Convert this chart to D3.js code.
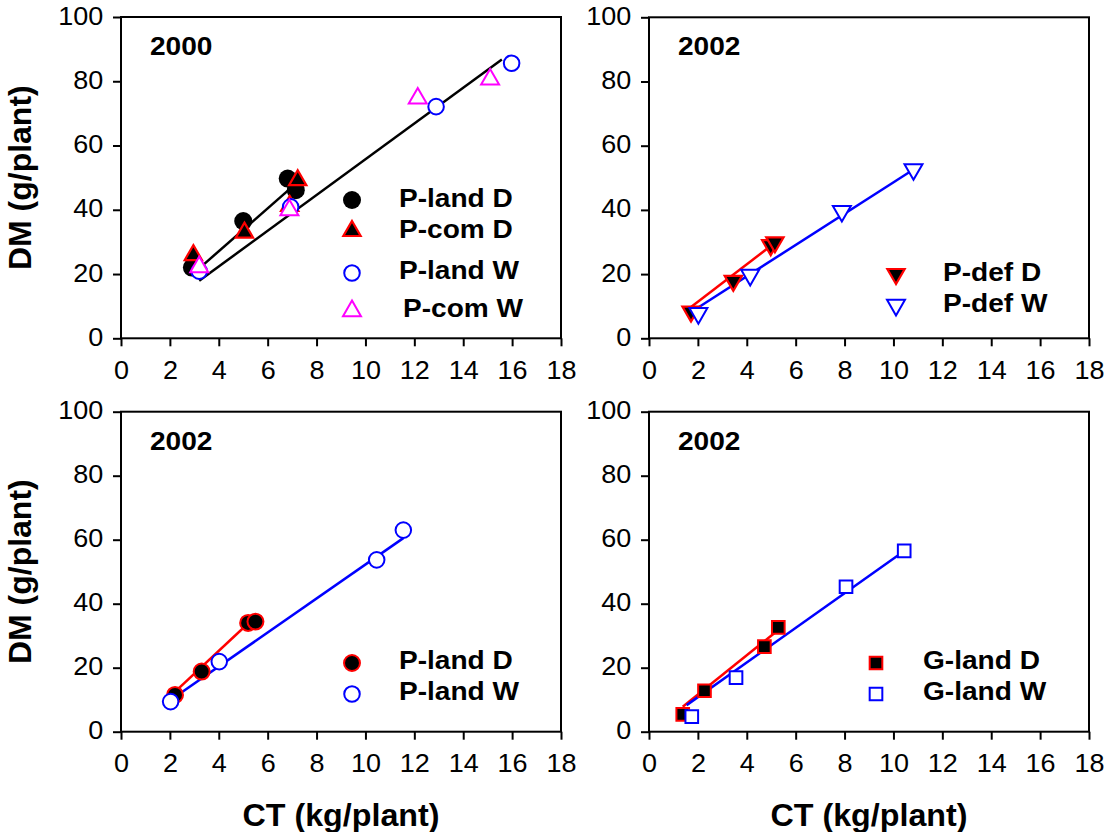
<!DOCTYPE html>
<html>
<head>
<meta charset="utf-8">
<script src="https://cdn.jsdelivr.net/npm/d3@7"></script>
<style>
  html, body { margin: 0; padding: 0; background: #fff; }
  svg { display: block; font-family: "Liberation Sans", Arial, sans-serif; }
</style>
</head>
<body>
<svg id="chart" width="1104" height="832"></svg>
<script>
// Axis ticks
const xTicks = [0, 2, 4, 6, 8, 10, 12, 14, 16, 18];
const yTicks = [0, 20, 40, 60, 80, 100];

// 2000: P-land / P-com, dry (D) and wet (W)  [CT, DM]
const pLandD2000 = [[2.9, 22.0], [5.0, 36.5], [6.82, 49.7], [7.15, 46.1]];
const pComD2000  = [[2.96, 25.9], [5.05, 32.9], [6.9, 41.2], [7.23, 49.2]];
const pLandW2000 = [[3.2, 20.9], [6.94, 40.9], [12.89, 72.1], [15.98, 85.6]];
const pComW2000  = [[3.2, 22.2], [6.89, 39.9], [12.14, 74.7], [15.1, 80.6]];
const fitD2000   = [[3.34, 22.7], [6.85, 46.1]];
const fitW2000   = [[3.2, 17.9], [15.58, 86.8]];

// 2002: P-def
const pDefD    = [[1.72, 8.3], [3.45, 17.9], [4.98, 29.0], [5.15, 29.9]];
const pDefW    = [[2.02, 7.8], [4.14, 19.7], [7.89, 39.6], [10.82, 52.6]];
const fitDefD  = [[1.68, 9.5], [5.02, 29.0]];
const fitDefW  = [[1.95, 9.3], [10.82, 52.6]];

// 2002: P-land
const pLandD2002 = [[2.21, 11.5], [3.3, 18.8], [5.2, 34.0], [5.5, 34.4]];
const pLandW2002 = [[2.03, 9.4], [4.02, 21.9], [10.46, 53.7], [11.55, 63.0]];
const fitLandD   = [[2.14, 12.0], [5.35, 34.9]];
const fitLandW   = [[2.03, 9.9], [11.55, 60.5]];

// 2002: G-land
const gLandD = [[1.38, 5.4], [2.27, 12.8], [4.72, 26.6], [5.29, 32.6]];
const gLandW = [[1.75, 4.7], [3.56, 16.9], [8.06, 45.3], [10.44, 56.5]];
const fitGD  = [[1.38, 7.8], [5.29, 31.8]];
const fitGW  = [[1.54, 8.3], [10.44, 56.5]];

const BLUE = "#0000ff", RED = "#ff0000", MAGENTA = "#ff00ff", BLACK = "#000";
const SX = 1.08; // slight horizontal widening of the lettering

const svg = d3.select("#chart");

// text helper: positioned by translate, widened with scaleX
function label(g, x, y, str, opts = {}) {
  return g.append("text")
    .attr("transform", `translate(${x},${y}) scale(${opts.sx ?? SX},1)`)
    .attr("text-anchor", opts.anchor || "start")
    .attr("font-size", opts.size || 26)
    .attr("font-weight", opts.weight || "bold")
    .attr("fill", "#000")
    .text(str);
}

const markerStyles = {
  landD:  { type: d3.symbolCircle,   size: 255, fill: BLACK, stroke: "none", sw: 0, rot: 0 },
  landDr: { type: d3.symbolCircle,   size: 200, fill: BLACK, stroke: RED, sw: 2, rot: 0 },
  comD:   { type: d3.symbolTriangle, size: 130, fill: BLACK, stroke: RED, sw: 2.2, rot: 0 },
  landW:  { type: d3.symbolCircle,   size: 190, fill: "#fff", stroke: BLUE, sw: 2, rot: 0 },
  comW:   { type: d3.symbolTriangle, size: 140, fill: "#fff", stroke: MAGENTA, sw: 2, rot: 0 },
  defD:   { type: d3.symbolTriangle, size: 130, fill: BLACK, stroke: RED, sw: 2.2, rot: 180 },
  defW:   { type: d3.symbolTriangle, size: 140, fill: "#fff", stroke: BLUE, sw: 2, rot: 180 },
  gD:     { type: d3.symbolSquare,   size: 160, fill: BLACK, stroke: RED, sw: 2, rot: 0 },
  gW:     { type: d3.symbolSquare,   size: 160, fill: "#fff", stroke: BLUE, sw: 2, rot: 0 }
};

function drawMarker(g, x, y, st) {
  g.append("path")
    .attr("d", d3.symbol().type(st.type).size(st.size)())
    .attr("transform", `translate(${x},${y}) rotate(${st.rot})`)
    .attr("fill", st.fill)
    .attr("stroke", st.stroke)
    .attr("stroke-width", st.sw);
}

function panel(cfg) {
  const x = d3.scaleLinear().domain([0, 18]).range([cfg.left, cfg.left + 440]);
  const y = d3.scaleLinear().domain([0, 100]).range([cfg.bottom, cfg.top]);
  const g = svg.append("g");

  // frame
  g.append("rect")
    .attr("x", cfg.left).attr("y", cfg.top)
    .attr("width", 440).attr("height", cfg.bottom - cfg.top)
    .attr("fill", "none").attr("stroke", "#000").attr("stroke-width", 2);

  const ax = g.append("g").attr("transform", `translate(0,${cfg.bottom})`)
    .call(d3.axisBottom(x).tickValues(xTicks).tickSize(8).tickSizeOuter(0).tickPadding(15));
  const ay = g.append("g").attr("transform", `translate(${cfg.left},0)`)
    .call(d3.axisLeft(y).tickValues(yTicks).tickSize(8).tickSizeOuter(0).tickPadding(8.5));
  [ax, ay].forEach(a => {
    a.select(".domain").remove();
    a.selectAll(".tick line").attr("stroke", "#000").attr("stroke-width", 2);
    a.selectAll(".tick text")
      .attr("font-family", "'Liberation Sans', Arial, sans-serif")
      .attr("font-size", 25).attr("fill", "#000");
  });
  ax.selectAll(".tick text").attr("transform", `scale(${SX},1)`);
  ay.selectAll(".tick text").attr("transform", `scale(${SX},1)`).attr("dy", "0.28em");

  const line = d3.line().x(d => x(d[0])).y(d => y(d[1]));
  cfg.fits.forEach(f => {
    g.append("path").attr("d", line(f.data))
      .attr("fill", "none").attr("stroke", f.color).attr("stroke-width", 2.5);
  });

  cfg.series.forEach(s => {
    s.data.forEach(d => drawMarker(g, x(d[0]), y(d[1]), markerStyles[s.style]));
  });

  label(g, cfg.left + 29, cfg.top + 38, cfg.title, { size: 26 });

  cfg.legend.forEach(l => {
    drawMarker(g, l.mx, l.my, markerStyles[l.style]);
    label(g, l.tx, l.ty, l.text, { size: 26 });
  });
}

panel({
  left: 121, top: 17, bottom: 338.3, title: "2000",
  fits: [{ data: fitD2000, color: BLACK }, { data: fitW2000, color: BLACK }],
  series: [
    { data: pLandD2000, style: "landD" },
    { data: pComD2000, style: "comD" },
    { data: pLandW2000, style: "landW" },
    { data: pComW2000, style: "comW" }
  ],
  legend: [
    { style: "landD", mx: 352, my: 200, tx: 399, ty: 207, text: "P-land D" },
    { style: "comD",  mx: 352, my: 231, tx: 399, ty: 238, text: "P-com D" },
    { style: "landW", mx: 352, my: 273, tx: 399, ty: 279, text: "P-land W" },
    { style: "comW",  mx: 352, my: 311, tx: 403, ty: 317, text: "P-com W" }
  ]
});

panel({
  left: 649, top: 17.3, bottom: 338.3, title: "2002",
  fits: [{ data: fitDefD, color: RED }, { data: fitDefW, color: BLUE }],
  series: [
    { data: pDefD, style: "defD" },
    { data: pDefW, style: "defW" }
  ],
  legend: [
    { style: "defD", mx: 896, my: 274, tx: 943, ty: 281, text: "P-def D" },
    { style: "defW", mx: 896, my: 305, tx: 943, ty: 312, text: "P-def W" }
  ]
});

panel({
  left: 121, top: 411.7, bottom: 731.7, title: "2002",
  fits: [{ data: fitLandD, color: RED }, { data: fitLandW, color: BLUE }],
  series: [
    { data: pLandD2002, style: "landDr" },
    { data: pLandW2002, style: "landW" }
  ],
  legend: [
    { style: "landDr", mx: 352, my: 663, tx: 399, ty: 669, text: "P-land D" },
    { style: "landW",  mx: 352, my: 694, tx: 399, ty: 700, text: "P-land W" }
  ]
});

panel({
  left: 649, top: 411.7, bottom: 731.7, title: "2002",
  fits: [{ data: fitGD, color: RED }, { data: fitGW, color: BLUE }],
  series: [
    { data: gLandD, style: "gD" },
    { data: gLandW, style: "gW" }
  ],
  legend: [
    { style: "gD", mx: 876, my: 663, tx: 923, ty: 669, text: "G-land D" },
    { style: "gW", mx: 876, my: 694, tx: 923, ty: 700, text: "G-land W" }
  ]
});

// axis titles
const titles = svg.append("g");
[177.7, 571.7].forEach(cy => {
  titles.append("text")
    .attr("transform", `translate(30.5,${cy}) rotate(-90)`)
    .attr("text-anchor", "middle")
    .attr("font-size", 32).attr("font-weight", "bold")
    .text("DM (g/plant)");
});
[341, 869].forEach(cx => {
  label(titles, cx, 826, "CT (kg/plant)", { size: 31, anchor: "middle", sx: 1.04 });
});
</script>
</body>
</html>
